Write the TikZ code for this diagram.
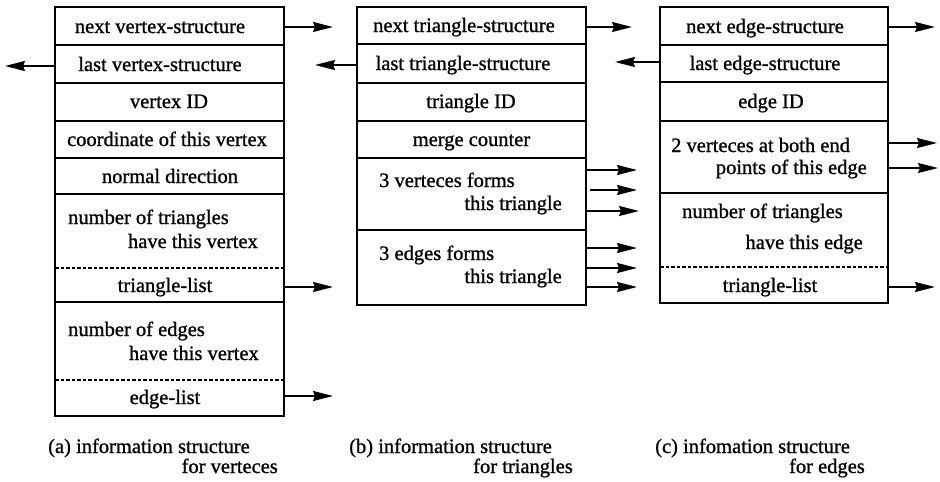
\documentclass[tikz,border=0pt]{standalone}
\usepackage{fontspec}
\setmainfont{Liberation Serif}[FakeBold=1]
\usetikzlibrary{arrows.meta,fit}
\tikzset{
  cellbox/.style={inner sep=0pt, outer sep=0pt},
  frame/.style={line width=1.8pt},
  divider/.style={line width=1.4pt},
  dotdiv/.style={line width=1.4pt, dash pattern=on 3.5pt off 2pt},
  txt/.style={inner sep=0pt, anchor=base, font=\fontsize{20.5}{24}\selectfont},
  txtl/.style={txt, anchor=base west},
  txtr/.style={txt, anchor=base east},
  ptr/.style={line width=1.7pt, -{Stealth[length=20pt,width=10pt,inset=2pt]}},
}
\begin{document}
\begin{tikzpicture}[x=1pt,y=-1pt]
\fill[white] (0,0) rectangle (940,482);
\useasboundingbox (0,0) rectangle (940,482);

% ---------- (a) vertex structure ----------
\node[cellbox, fit={(55,7) (284,45)}] (a1) {};
\node[cellbox, fit={(55,45) (284,83)}] (a2) {};
\node[cellbox, fit={(55,83) (284,121)}] (a3) {};
\node[cellbox, fit={(55,121) (284,158)}] (a4) {};
\node[cellbox, fit={(55,158) (284,194)}] (a5) {};
\node[cellbox, fit={(55,194) (284,268)}] (a6) {};
\node[cellbox, fit={(55,268) (284,302)}] (a7) {};
\node[cellbox, fit={(55,302) (284,380)}] (a8) {};
\node[cellbox, fit={(55,380) (284,416)}] (a9) {};
\draw[frame] (a1.north west) rectangle (a9.south east);
\foreach \c in {a1,a2,a3,a4,a5,a7} \draw[divider] (\c.south west) -- (\c.south east);
\foreach \c in {a6,a8} \draw[dotdiv] (\c.south west) -- (\c.south east);

\node[txt] (a1t) at (160,33) {next vertex-structure};
\node[txt] (a2t) at (160,71) {last vertex-structure};
\node[txt] (a3t) at (169,108) {vertex ID};
\node[txt] (a4t) at (167,146) {coordinate of this vertex};
\node[txt] (a5t) at (170,183) {normal direction};
\node[txtl] (a6t1) at (68,224) {number of triangles};
\node[txtr] (a6t2) at (258,248) {have this vertex};
\node[txt] (a7t) at (165,292) {triangle-list};
\node[txtl] (a8t1) at (68,336) {number of edges};
\node[txtr] (a8t2) at (259,360) {have this vertex};
\node[txt] (a9t) at (165,404) {edge-list};

\coordinate (pa1) at (333,27);
\coordinate (pa2) at (5,66);
\coordinate (pa7) at (333,287);
\coordinate (pa9) at (333,396);
\draw[ptr] (a1.east |- pa1) -- (pa1);
\draw[ptr] (a2.west |- pa2) -- (pa2);
\draw[ptr] (a7.east |- pa7) -- (pa7);
\draw[ptr] (a9.east |- pa9) -- (pa9);

% ---------- (b) triangle structure ----------
\node[cellbox, fit={(357,7) (586,44)}] (b1) {};
\node[cellbox, fit={(357,44) (586,83)}] (b2) {};
\node[cellbox, fit={(357,83) (586,121)}] (b3) {};
\node[cellbox, fit={(357,121) (586,158)}] (b4) {};
\node[cellbox, fit={(357,158) (586,230)}] (b5) {};
\node[cellbox, fit={(357,230) (586,305)}] (b6) {};
\draw[frame] (b1.north west) rectangle (b6.south east);
\foreach \c in {b1,b2,b3,b4,b5} \draw[divider] (\c.south west) -- (\c.south east);

\node[txt] (b1t) at (464,32) {next triangle-structure};
\node[txt] (b2t) at (463,70) {last triangle-structure};
\node[txt] (b3t) at (471,108) {triangle ID};
\node[txt] (b4t) at (471.5,146) {merge counter};
\node[txtl] (b5t1) at (379,187) {3 verteces forms};
\node[txtr] (b5t2) at (562,210) {this triangle};
\node[txtl] (b6t1) at (379,260) {3 edges forms};
\node[txtr] (b6t2) at (562,283) {this triangle};

\coordinate (pb1) at (632,27);
\coordinate (pb2) at (315,65);
\coordinate (pb5a) at (637,170);
\coordinate (pb5b) at (637,190);
\coordinate (pb5c) at (639,211);
\coordinate (pb6a) at (637,248);
\coordinate (pb6b) at (637,268);
\coordinate (pb6c) at (637,287);
\draw[ptr] (b1.east |- pb1) -- (pb1);
\draw[ptr] (b2.west |- pb2) -- (pb2);
\draw[ptr] (b5.east |- pb5a) -- (pb5a);
\draw[ptr] ([xshift=4pt]b5.east |- pb5b) -- (pb5b);
\draw[ptr] (b5.east |- pb5c) -- (pb5c);
\draw[ptr] (b6.east |- pb6a) -- (pb6a);
\draw[ptr] (b6.east |- pb6b) -- (pb6b);
\draw[ptr] (b6.east |- pb6c) -- (pb6c);

% ---------- (c) edge structure ----------
\node[cellbox, fit={(660,7) (888,45)}] (c1) {};
\node[cellbox, fit={(660,45) (888,82)}] (c2) {};
\node[cellbox, fit={(660,82) (888,121)}] (c3) {};
\node[cellbox, fit={(660,121) (888,193)}] (c4) {};
\node[cellbox, fit={(660,193) (888,267)}] (c5) {};
\node[cellbox, fit={(660,267) (888,303)}] (c6) {};
\draw[frame] (c1.north west) rectangle (c6.south east);
\foreach \c in {c1,c2,c3,c4} \draw[divider] (\c.south west) -- (\c.south east);
\draw[dotdiv] (c5.south west) -- (c5.south east);

\node[txt] (c1t) at (765,33) {next edge-structure};
\node[txt] (c2t) at (765,70) {last edge-structure};
\node[txt] (c3t) at (771,108) {edge ID};
\node[txtl] (c4t1) at (671,152) {2 verteces at both end};
\node[txtr] (c4t2) at (867,174) {points of this edge};
\node[txtl] (c5t1) at (682,218) {number of triangles};
\node[txtr] (c5t2) at (863,249) {have this edge};
\node[txt] (c6t) at (770,292) {triangle-list};

\coordinate (pc1) at (935,27);
\coordinate (pc2) at (615,62);
\coordinate (pc4a) at (937,143);
\coordinate (pc4b) at (938,168);
\coordinate (pc6) at (935,287);
\draw[ptr] (c1.east |- pc1) -- (pc1);
\draw[ptr] (c2.west |- pc2) -- (pc2);
\draw[ptr] (c4.east |- pc4a) -- (pc4a);
\draw[ptr] (c4.east |- pc4b) -- (pc4b);
\draw[ptr] (c6.east |- pc6) -- (pc6);

% ---------- captions ----------
\node[txtl] (capa1) at (48,453) {(a) information structure};
\node[txtr] (capa2) at (278,473) {for verteces};
\node[txtl] (capb1) at (349,453) {(b) information structure};
\node[txtr] (capb2) at (573,473) {for triangles};
\node[txtl] (capc1) at (655,453) {(c) infomation structure};
\node[txtr] (capc2) at (865,473) {for edges};
\end{tikzpicture}
\end{document}
